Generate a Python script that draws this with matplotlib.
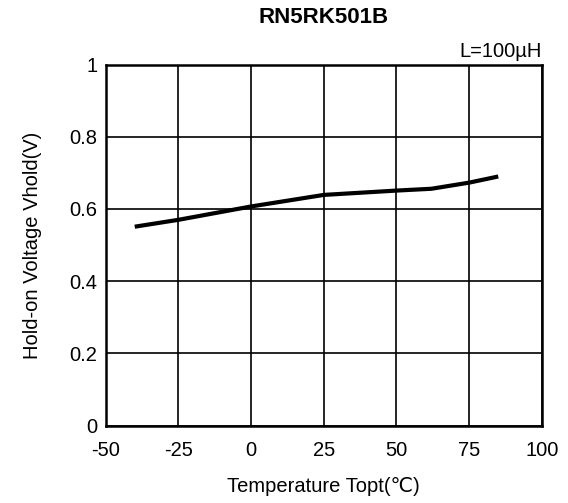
import matplotlib
matplotlib.use("Agg")
import matplotlib.pyplot as plt

plt.rcParams['font.family'] = ['Liberation Sans', 'DejaVu Sans']
plt.rcParams['axes.unicode_minus'] = False

# data
temp = [-40, -25, 0, 25, 50, 62, 75, 85]
vhold = [0.551, 0.570, 0.607, 0.639, 0.651, 0.656, 0.673, 0.690]
xticks = [-50, -25, 0, 25, 50, 75, 100]
yticks = [0, 0.2, 0.4, 0.6, 0.8, 1]
yticklabels = ['0', '0.2', '0.4', '0.6', '0.8', '1']

fig = plt.figure(figsize=(5.68, 5.03), dpi=100)
ax = fig.add_axes([0.186, 0.1537, 0.768, 0.718])

ax.plot(temp, vhold, color='black', lw=3, solid_capstyle='butt')

ax.set_xlim(-50, 100)
ax.set_ylim(0, 1)
ax.set_xticks(xticks)
ax.set_yticks(yticks)
ax.set_yticklabels(yticklabels)
ax.tick_params(length=0, labelsize=14.5)
ax.tick_params(axis='x', pad=11)
ax.tick_params(axis='y', pad=6)
ax.grid(True, color='black', lw=1.2)
for s in ax.spines.values():
    s.set_linewidth(1.8)

ax.set_xlabel('Temperature Topt(℃)', fontsize=14.5, labelpad=12)
ax.set_ylabel('Hold-on Voltage Vhold(V)', fontsize=14.5, labelpad=20)
fig.text(0.57, 0.965, 'RN5RK501B', fontsize=16, fontweight='bold', ha='center', va='center')
ax.text(1.0, 1.01, 'L=100µH', transform=ax.transAxes, fontsize=14.5, ha='right', va='bottom')

fig.savefig('out.png', dpi=100)
